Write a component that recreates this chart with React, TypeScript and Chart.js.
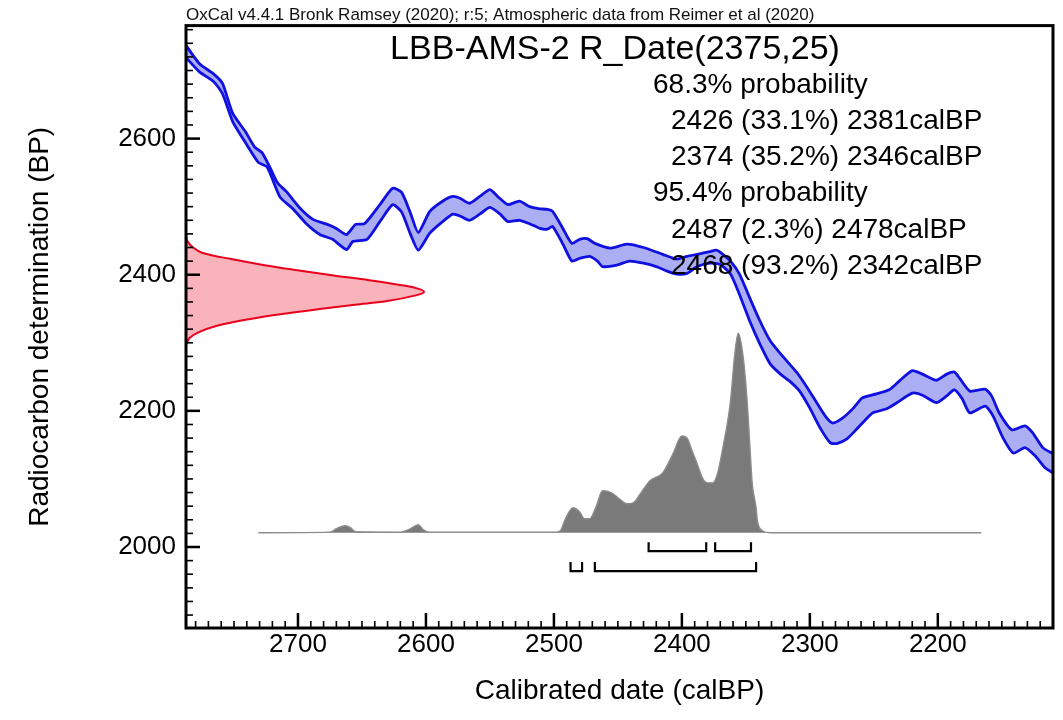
import { useEffect, useRef } from "react";
import { Chart, registerables } from "chart.js";

Chart.register(...registerables);

// ---------- data ----------
// calibration curve (IntCal20), upper and lower 1-sigma edges: [calBP, BP]
const curveUpper: number[][] = [
  [2788, 2738], [2777, 2710], [2766, 2695], [2759, 2681], [2751, 2637], [2741, 2610], [2734, 2588],
  [2728, 2579], [2722, 2558], [2716, 2535], [2709, 2522], [2698, 2497], [2688, 2481], [2677, 2474],
  [2670, 2468], [2662, 2459], [2655, 2474], [2648, 2475], [2636, 2503], [2626, 2527], [2619, 2521],
  [2612, 2490], [2606, 2462], [2597, 2493], [2587, 2508], [2579, 2515], [2573, 2512], [2566, 2505],
  [2558, 2515], [2550, 2525], [2544, 2515], [2536, 2503], [2527, 2508], [2519, 2500], [2512, 2497],
  [2505, 2496], [2501, 2493], [2493, 2468], [2486, 2446], [2480, 2452], [2474, 2453], [2468, 2446],
  [2456, 2439], [2443, 2445], [2430, 2440], [2415, 2430], [2404, 2423], [2396, 2427], [2388, 2430],
  [2378, 2434], [2373, 2436], [2368, 2430], [2362, 2420], [2355, 2401], [2347, 2366], [2339, 2332],
  [2331, 2303], [2323, 2284], [2316, 2269], [2310, 2256], [2302, 2234], [2294, 2210], [2287, 2190],
  [2282, 2182], [2274, 2190], [2266, 2204], [2259, 2219], [2248, 2225], [2238, 2231], [2230, 2244],
  [2220, 2259], [2212, 2254], [2201, 2245], [2193, 2254], [2187, 2257], [2183, 2248], [2175, 2229],
  [2163, 2232], [2158, 2222], [2152, 2197], [2142, 2172], [2132, 2178], [2126, 2168], [2118, 2146],
  [2110, 2137],
];
const curveLower: number[][] = [
  [2788, 2720], [2777, 2698], [2766, 2684], [2759, 2666], [2751, 2625], [2740, 2591], [2731, 2565],
  [2724, 2558], [2714, 2514], [2704, 2497], [2693, 2474], [2683, 2459], [2673, 2452], [2662, 2437],
  [2657, 2449], [2646, 2452], [2636, 2478], [2626, 2503], [2619, 2492], [2612, 2459], [2606, 2436],
  [2597, 2461], [2587, 2478], [2579, 2489], [2573, 2486], [2566, 2480], [2558, 2489], [2550, 2499],
  [2542, 2489], [2536, 2478], [2527, 2480], [2519, 2475], [2511, 2468], [2505, 2467], [2501, 2471],
  [2493, 2445], [2486, 2420], [2480, 2424], [2472, 2427], [2466, 2420], [2462, 2412], [2451, 2414],
  [2441, 2420], [2430, 2417], [2420, 2412], [2411, 2405], [2404, 2401], [2396, 2402], [2388, 2412],
  [2378, 2417], [2370, 2415], [2362, 2401], [2355, 2371], [2347, 2332], [2339, 2298], [2331, 2269],
  [2323, 2254], [2316, 2244], [2308, 2229], [2300, 2204], [2292, 2175], [2284, 2153], [2279, 2152],
  [2271, 2159], [2263, 2174], [2255, 2190], [2251, 2197], [2240, 2203], [2232, 2212], [2220, 2226],
  [2212, 2223], [2201, 2212], [2193, 2222], [2187, 2231], [2181, 2218], [2175, 2197], [2163, 2207],
  [2157, 2193], [2149, 2160], [2141, 2138], [2132, 2146], [2124, 2134], [2116, 2116], [2110, 2109],
];

// calibrated probability distribution: [calBP, relative probability]
const posterior: number[][] = [
  [2731, 0], [2675, 0.003], [2670, 0.02], [2663, 0.035], [2659, 0.025], [2655, 0.005], [2620, 0.003],
  [2612, 0.02], [2606, 0.04], [2602, 0.015], [2597, 0.003], [2499, 0.003], [2495, 0.01], [2491, 0.07],
  [2485, 0.125], [2480, 0.105], [2476, 0.07], [2472, 0.07], [2467, 0.13], [2462, 0.21], [2455, 0.2],
  [2448, 0.165], [2443, 0.145], [2438, 0.15], [2432, 0.2], [2425, 0.26], [2415, 0.3], [2407, 0.395],
  [2400, 0.485], [2396, 0.475], [2392, 0.41], [2388, 0.345], [2384, 0.275], [2380, 0.25], [2376, 0.25],
  [2372, 0.3], [2368, 0.425], [2362, 0.66], [2359, 0.875], [2356, 1.0], [2352, 0.875], [2349, 0.66],
  [2347, 0.45], [2345, 0.245], [2342, 0.125], [2341, 0.06], [2337, 0.01], [2331, 0], [2166, 0],
];

// radiocarbon measurement 2375 ± 25 BP: [BP, relative density]
const measurement: number[][] = [
  [2461, 0], [2450, 0.005], [2440, 0.03], [2432, 0.07], [2423, 0.19], [2414, 0.33], [2407, 0.46],
  [2399, 0.62], [2392, 0.77], [2385, 0.9], [2380, 0.97], [2375, 1.0], [2370, 0.97], [2361, 0.84],
  [2356, 0.71], [2350, 0.57], [2343, 0.42], [2335, 0.27], [2325, 0.13], [2315, 0.05], [2307, 0.015],
  [2297, 0],
];

// highest probability density ranges (calBP)
const ranges68: number[][] = [[2426, 2381], [2374, 2346]];
const ranges95: number[][] = [[2487, 2478], [2468, 2342]];

const headerText = "OxCal v4.4.1 Bronk Ramsey (2020); r:5; Atmospheric data from Reimer et al (2020)";
const titleText = "LBB-AMS-2 R_Date(2375,25)";
const summaryHeads = ["68.3% probability", "95.4% probability"];
const summary68 = ["2426 (33.1%) 2381calBP", "2374 (35.2%) 2346calBP"];
const summary95 = ["2487 (2.3%) 2478calBP", "2468 (93.2%) 2342calBP"];

// ---------- axis ranges / placement ----------
const X_MIN = 2110;
const X_MAX = 2787.5;
const Y_MIN = 1881;
const Y_MAX = 2766;
const POST_BASE = 2021; // baseline of the calibrated distribution (BP units)
const POST_HEIGHT = 293; // height of the highest peak (BP units)
const MEAS_WIDTH = 186; // horizontal extent of the measurement peak (calBP units)
const BR68 = { line: 1994, tip: 2007 };
const BR95 = { line: 1964.5, tip: 1978 };

const FONT = '"Liberation Sans", Arial, Helvetica, sans-serif';

const bracket = (r: number[], lv: { line: number; tip: number }) => [
  { x: r[0], y: lv.tip },
  { x: r[0], y: lv.line },
  { x: r[1], y: lv.line },
  { x: r[1], y: lv.tip },
];

const overlayPlugin = {
  id: "oxcalOverlay",
  afterDatasetsDraw(chart: any) {
    const { ctx, chartArea: a, scales } = chart;
    const xs = scales.x;
    const ys = scales.y;
    ctx.save();
    ctx.strokeStyle = "#000";
    // inward ticks on bottom axis
    for (let v = Math.ceil(xs.min / 10) * 10; v <= xs.max; v += 10) {
      const px = xs.getPixelForValue(v);
      const major = v % 100 === 0;
      ctx.lineWidth = major ? 2.5 : 1.6;
      ctx.beginPath();
      ctx.moveTo(px, a.bottom);
      ctx.lineTo(px, a.bottom - (major ? 15 : 7));
      ctx.stroke();
    }
    // inward ticks on left axis
    for (let v = Math.ceil(ys.min / 20) * 20; v <= ys.max; v += 20) {
      const py = ys.getPixelForValue(v);
      const major = v % 200 === 0;
      ctx.lineWidth = major ? 2.5 : 1.6;
      ctx.beginPath();
      ctx.moveTo(a.left, py);
      ctx.lineTo(a.left + (major ? 14 : 7), py);
      ctx.stroke();
    }
    // frame
    ctx.lineWidth = 3;
    ctx.strokeRect(a.left, a.top, a.right - a.left, a.bottom - a.top);

    // texts
    ctx.textBaseline = "middle";
    ctx.textAlign = "left";
    ctx.font = `17px ${FONT}`;
    ctx.fillStyle = "#111";
    ctx.fillText(headerText, a.left, 15);
    ctx.fillStyle = "#000";
    ctx.font = `34px ${FONT}`;
    ctx.textAlign = "center";
    ctx.fillText(titleText, 615, 50);
    ctx.font = `28px ${FONT}`;
    ctx.textAlign = "left";
    const rows: [string, number][] = [
      [summaryHeads[0], 653],
      [summary68[0], 671],
      [summary68[1], 671],
      [summaryHeads[1], 653],
      [summary95[0], 671],
      [summary95[1], 671],
    ];
    rows.forEach(([t, x], i) => ctx.fillText(t, x, 85 + i * 36.2));
    ctx.restore();
  },
};

export default function App() {
  const ref = useRef<HTMLCanvasElement>(null);

  useEffect(() => {
    if (!ref.current) return;
    const band = [
      ...curveUpper.map(([x, y]) => ({ x, y })),
      ...curveLower.slice().reverse().map(([x, y]) => ({ x, y })),
    ];
    const blue = "#1010e0";
    const datasets: any[] = [
      ...ranges68.map((r) => ({
        data: bracket(r, BR68),
        borderColor: "#000",
        borderWidth: 2.2,
        showLine: true,
        pointRadius: 0,
        fill: false,
      })),
      ...ranges95.map((r) => ({
        data: bracket(r, BR95),
        borderColor: "#000",
        borderWidth: 2.2,
        showLine: true,
        pointRadius: 0,
        fill: false,
      })),
      {
        data: measurement.map(([bp, d]) => ({ x: X_MAX - d * MEAS_WIDTH, y: bp })),
        borderColor: "#e8001c",
        backgroundColor: "rgba(240, 30, 55, 0.34)",
        borderWidth: 2,
        showLine: true,
        pointRadius: 0,
        tension: 0.35,
        fill: "shape",
      },
      {
        data: posterior.map(([c, p]) => ({ x: c, y: POST_BASE + p * POST_HEIGHT })),
        borderColor: "#8c8c8c",
        backgroundColor: "#7a7a7a",
        borderWidth: 1.4,
        showLine: true,
        pointRadius: 0,
        cubicInterpolationMode: "monotone",
        fill: { value: POST_BASE },
      },
      {
        data: curveUpper.map(([x, y]) => ({ x, y })),
        borderColor: blue,
        borderWidth: 2.8,
        showLine: true,
        pointRadius: 0,
        tension: 0.2,
        fill: false,
      },
      {
        data: curveLower.map(([x, y]) => ({ x, y })),
        borderColor: blue,
        borderWidth: 2.8,
        showLine: true,
        pointRadius: 0,
        tension: 0.2,
        fill: false,
      },
      {
        data: band,
        borderColor: "rgba(0,0,0,0)",
        borderWidth: 0,
        backgroundColor: "rgba(80, 85, 230, 0.48)",
        showLine: true,
        pointRadius: 0,
        tension: 0.2,
        fill: "shape",
      },
    ];

    const chart = new Chart(ref.current, {
      type: "scatter",
      data: { datasets },
      plugins: [overlayPlugin],
      options: {
        animation: false,
        responsive: true,
        maintainAspectRatio: false,
        layout: { padding: { left: 0, right: 10, top: 24, bottom: 0 } },
        plugins: { legend: { display: false }, tooltip: { enabled: false } },
        font: { family: FONT },
        scales: {
          x: {
            type: "linear",
            reverse: true,
            min: X_MIN,
            max: X_MAX,
            grid: { display: false, drawTicks: false },
            border: { display: false },
            afterFit: (s: any) => {
              s.height = 92;
            },
            ticks: {
              stepSize: 100,
              includeBounds: false,
              padding: 1,
              maxRotation: 0,
              color: "#000",
              font: { family: FONT, size: 26 },
              callback: (v: any) => String(v),
            },
            title: {
              display: true,
              text: "Calibrated date (calBP)",
              color: "#000",
              font: { family: FONT, size: 28 },
              padding: { top: 4, bottom: 12 },
            },
          },
          y: {
            type: "linear",
            min: Y_MIN,
            max: Y_MAX,
            grid: { display: false, drawTicks: false },
            border: { display: false },
            afterFit: (s: any) => {
              s.width = 186;
            },
            ticks: {
              stepSize: 200,
              includeBounds: false,
              padding: 10,
              color: "#000",
              font: { family: FONT, size: 26 },
              callback: (v: any) => String(v),
            },
            title: {
              display: true,
              text: "Radiocarbon determination (BP)",
              color: "#000",
              font: { family: FONT, size: 28 },
              padding: { top: 23, bottom: 4 },
            },
          },
        },
      } as any,
    });
    return () => chart.destroy();
  }, []);

  return (
    <div style={{ position: "fixed", left: 0, top: 0, width: 1063, height: 720, background: "#fff" }}>
      <canvas ref={ref} />
    </div>
  );
}
